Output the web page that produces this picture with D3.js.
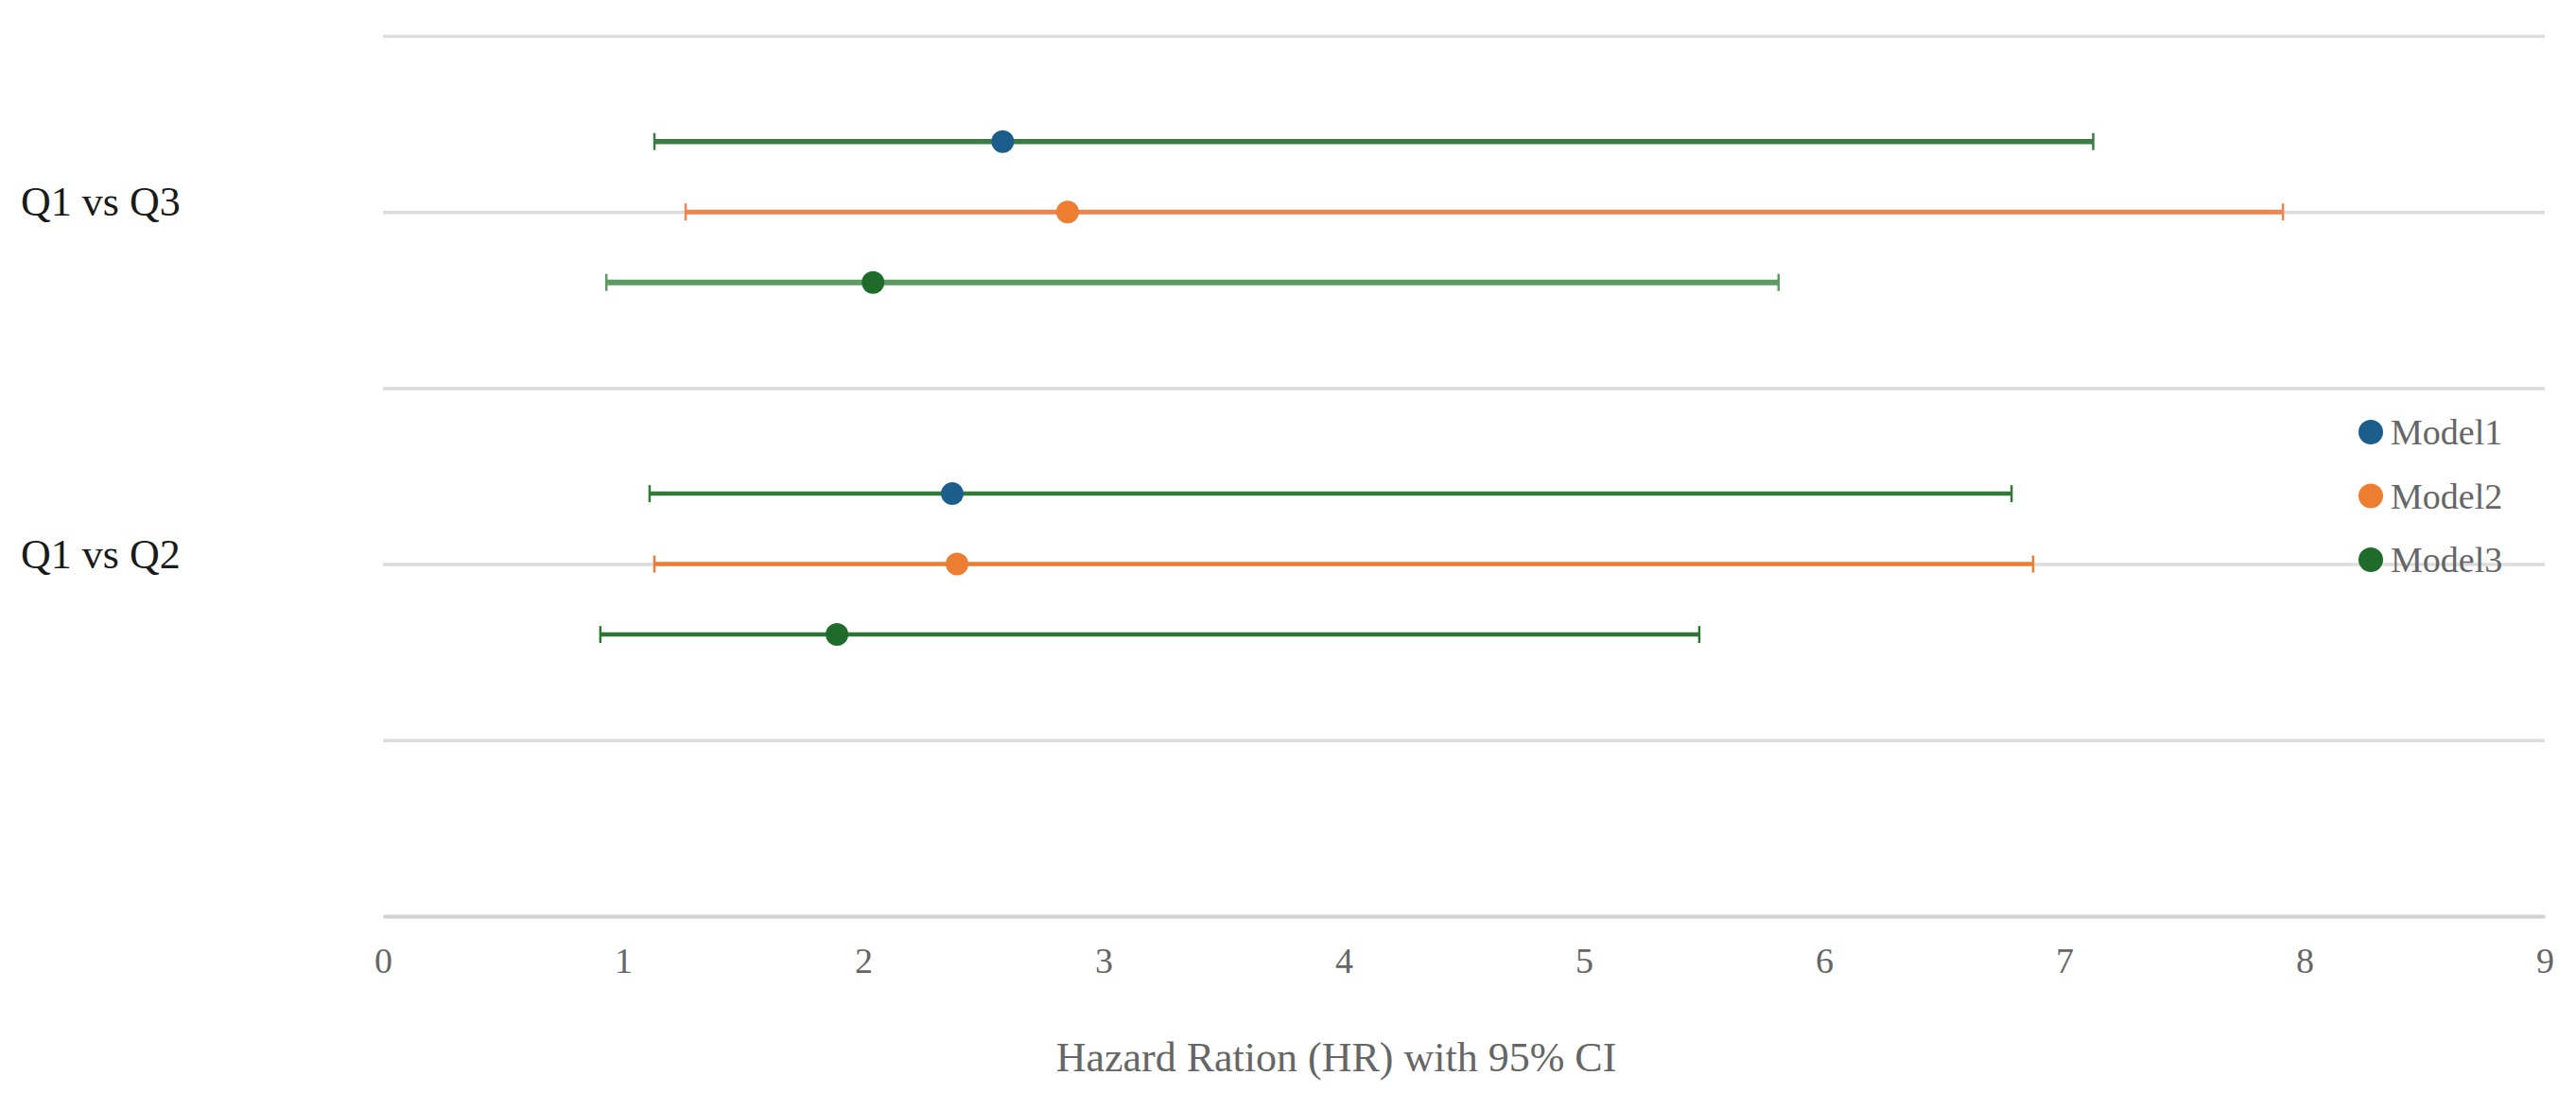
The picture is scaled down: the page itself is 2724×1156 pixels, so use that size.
<!DOCTYPE html>
<html>
<head>
<meta charset="utf-8">
<script src="https://cdn.jsdelivr.net/npm/d3@7"></script>
<style>
  html, body { margin: 0; padding: 0; background: #ffffff; }
  svg { display: block; }
  text { font-family: "Liberation Serif", "Times New Roman", serif; }
</style>
</head>
<body>
<svg id="chart" width="2724" height="1156"></svg>
<script>
// ---- data ----
const categories = ["Q1 vs Q2", "Q1 vs Q3"];
const categoryY = [2, 4];                 // position of each category on the hidden y value axis
const seriesNames = ["Model1", "Model2", "Model3"];
const seriesOffset = [0.4, 0, -0.4];      // vertical offset of each model within a category
const hr = {
  "Model1": [2.37, 2.58],
  "Model2": [2.39, 2.85],
  "Model3": [1.89, 2.04]
};
const ciLow = {
  "Model1": [1.11, 1.13],
  "Model2": [1.13, 1.26],
  "Model3": [0.905, 0.93]
};
const ciHigh = {
  "Model1": [6.78, 7.12],
  "Model2": [6.87, 7.91],
  "Model3": [5.48, 5.81]
};
const xTicks = [0, 1, 2, 3, 4, 5, 6, 7, 8, 9];
const yGridTicks = [0, 1, 2, 3, 4, 5];
const xTitle = "Hazard Ration (HR) with 95% CI";

// ---- styles ----
const dotColor = { "Model1": "#1B5E8B", "Model2": "#ED7D31", "Model3": "#1E6B2A" };
const barColor = {
  "Model1": ["#2E7A36", "#3A7D44"],
  "Model2": ["#ED7D31", "#EE8450"],
  "Model3": ["#2C7533", "#5E9A64"]
};
const barWidth = {
  "Model1": [4.5, 5.5],
  "Model2": [4.5, 5],
  "Model3": [4.5, 6]
};

// ---- layout ----
const svg = d3.select("#chart");
const x = d3.scaleLinear().domain([0, 9]).range([405, 2691]);
const y = d3.scaleLinear().domain([0, 5]).range([969, 38]);

// gridlines
const grid = svg.append("g")
  .attr("transform", `translate(${x(0)},0)`)
  .call(d3.axisLeft(y).tickValues(yGridTicks.filter(v => v > 0)).tickSize(-(x(9) - x(0))).tickFormat(""));
grid.select(".domain").remove();
grid.selectAll(".tick line").attr("stroke", "#DCDCDC").attr("stroke-width", 3.5);

// x axis (bottom)
const xAxis = svg.append("g")
  .attr("transform", `translate(0,${y(0)})`)
  .call(d3.axisBottom(x).tickValues(xTicks).tickSize(0).tickPadding(33).tickFormat(d3.format("d")));
xAxis.select(".domain").attr("stroke", "#D2D2D2").attr("stroke-width", 4);
xAxis.selectAll(".tick text")
  .attr("fill", "#666666")
  .style("font-size", "38px")
  .style("font-family", "'Liberation Serif', serif");

// category labels
const yAxis = svg.append("g")
  .attr("transform", `translate(22,0)`)
  .call(d3.axisLeft(y).tickValues(categoryY).tickSize(0).tickPadding(0)
        .tickFormat((d) => categories[categoryY.indexOf(d)]));
yAxis.select(".domain").remove();
yAxis.selectAll(".tick text")
  .attr("text-anchor", "start")
  .attr("x", 0)
  .attr("dy", "0.08em")
  .attr("fill", "#1a1a1a")
  .style("font-size", "44px")
  .style("font-family", "'Liberation Serif', serif");

// x title
svg.append("text")
  .attr("x", 1413)
  .attr("y", 1133)
  .attr("text-anchor", "middle")
  .attr("fill", "#666666")
  .style("font-size", "44px")
  .text(xTitle);

// error bars and points
const rows = [];
seriesNames.forEach((s, si) => {
  categories.forEach((c, ci) => {
    rows.push({
      series: s, cat: ci,
      yv: categoryY[ci] + seriesOffset[si],
      hr: hr[s][ci], lo: ciLow[s][ci], hi: ciHigh[s][ci]
    });
  });
});

const marks = svg.append("g");
const capH = 9;
const g = marks.selectAll("g.row").data(rows).join("g").attr("class", "row");
g.append("line")
  .attr("x1", d => x(d.lo)).attr("x2", d => x(d.hi))
  .attr("y1", d => y(d.yv)).attr("y2", d => y(d.yv))
  .attr("stroke", d => barColor[d.series][d.cat])
  .attr("stroke-width", d => barWidth[d.series][d.cat]);
g.append("line")
  .attr("x1", d => x(d.lo)).attr("x2", d => x(d.lo))
  .attr("y1", d => y(d.yv) - capH).attr("y2", d => y(d.yv) + capH)
  .attr("stroke", d => barColor[d.series][d.cat])
  .attr("stroke-width", 2.5);
g.append("line")
  .attr("x1", d => x(d.hi)).attr("x2", d => x(d.hi))
  .attr("y1", d => y(d.yv) - capH).attr("y2", d => y(d.yv) + capH)
  .attr("stroke", d => barColor[d.series][d.cat])
  .attr("stroke-width", 2.5);
g.append("circle")
  .attr("cx", d => x(d.hr))
  .attr("cy", d => y(d.yv))
  .attr("r", 12)
  .attr("fill", d => dotColor[d.series]);

// legend
const legend = svg.append("g").attr("transform", "translate(2507,457)");
const li = legend.selectAll("g").data(seriesNames).join("g")
  .attr("transform", (d, i) => `translate(0,${i * 67.5})`);
li.append("circle").attr("r", 13).attr("fill", d => dotColor[d]);
li.append("text")
  .attr("x", 21)
  .attr("dy", "0.35em")
  .attr("fill", "#666666")
  .style("font-size", "38px")
  .text(d => d);
</script>
</body>
</html>
